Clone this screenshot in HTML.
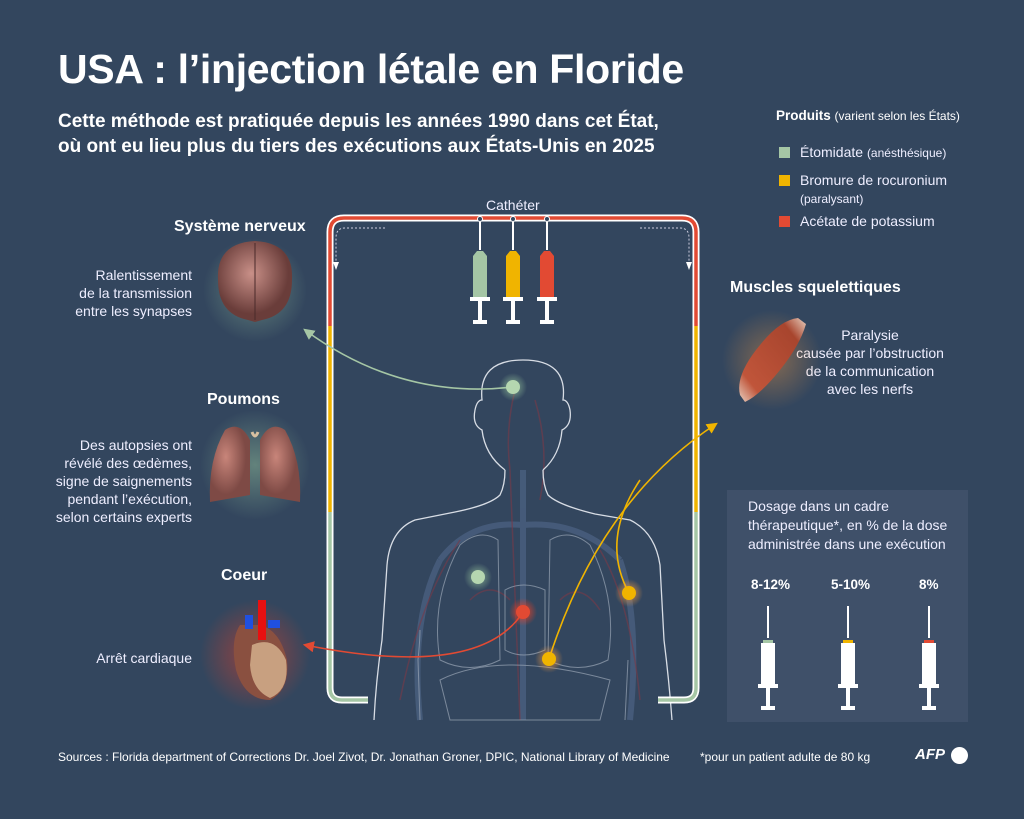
<!DOCTYPE html>
<html><head><meta charset="utf-8">
<style>
html,body{margin:0;padding:0}
body{width:1024px;height:819px;background:#33465e;position:relative;overflow:hidden;font-family:"Liberation Sans","DejaVu Sans",sans-serif;color:#fff}
.a{position:absolute;white-space:nowrap}
h1{position:absolute;left:58px;top:46px;margin:0;font-size:41px;font-weight:bold;letter-spacing:-0.3px}
.sub{left:58px;top:109px;font-size:19px;font-weight:bold;line-height:25px}
.lbl{font-size:16px;font-weight:bold}
.txt{font-size:14px;line-height:18px;color:#eef}
.r{text-align:right}
.c{text-align:center}
</style></head><body>
<h1>USA : l’injection létale en Floride</h1>
<div class="a sub">Cette méthode est pratiquée depuis les années 1990 dans cet État,<br>où ont eu lieu plus du tiers des exécutions aux États-Unis en 2025</div>

<div class="a" style="left:776px;top:108px;font-size:13.5px"><b>Produits</b> <span style="font-size:12px">(varient selon les États)</span></div>
<div class="a" style="left:779px;top:147px;width:11px;height:11px;background:#a5c6a5"></div>
<div class="a txt" style="left:800px;top:143px">Étomidate <span style="font-size:12px">(anésthésique)</span></div>
<div class="a" style="left:779px;top:175px;width:11px;height:11px;background:#f0b400"></div>
<div class="a txt" style="left:800px;top:171px">Bromure de rocuronium<br><span style="font-size:12px">(paralysant)</span></div>
<div class="a" style="left:779px;top:216px;width:11px;height:11px;background:#e24a33"></div>
<div class="a txt" style="left:800px;top:212px">Acétate de potassium</div>

<div class="a txt" style="left:486px;top:196px">Cathéter</div>

<div class="a lbl" style="left:174px;top:218px">Système nerveux</div>
<div class="a txt r" style="left:60px;top:266px;width:132px">Ralentissement<br>de la transmission<br>entre les synapses</div>
<div class="a lbl" style="left:207px;top:391px">Poumons</div>
<div class="a txt r" style="left:40px;top:436px;width:152px">Des autopsies ont<br>révélé des œdèmes,<br>signe de saignements<br>pendant l’exécution,<br>selon certains experts</div>
<div class="a lbl" style="left:221px;top:567px">Coeur</div>
<div class="a txt r" style="left:60px;top:649px;width:132px">Arrêt cardiaque</div>
<div class="a lbl" style="left:730px;top:279px">Muscles squelettiques</div>
<div class="a txt c" style="left:790px;top:326px;width:160px">Paralysie<br>causée par l’obstruction<br>de la communication<br>avec les nerfs</div>

<div class="a" style="left:727px;top:490px;width:241px;height:232px;background:#3f5069"></div>
<div class="a txt" style="left:748px;top:497px;line-height:19px">Dosage dans un cadre<br>thérapeutique*, en % de la dose<br>administrée dans une exécution</div>
<div class="a" style="left:751px;top:577px;font-size:13.5px;font-weight:bold">8-12%</div>
<div class="a" style="left:831px;top:577px;font-size:13.5px;font-weight:bold">5-10%</div>
<div class="a" style="left:919px;top:577px;font-size:13.5px;font-weight:bold">8%</div>

<div class="a" style="left:58px;top:750px;font-size:12px">Sources : Florida department of Corrections Dr. Joel Zivot, Dr. Jonathan Groner, DPIC, National Library of Medicine</div>
<div class="a" style="left:700px;top:750px;font-size:12px">*pour un patient adulte de 80 kg</div>
<div class="a" style="left:915px;top:746px;font-size:15px;font-weight:bold;font-style:italic">AFP</div>
<div class="a" style="left:951px;top:747px;width:17px;height:17px;border-radius:50%;background:#fff"></div>

<svg class="a" style="left:0;top:0" width="1024" height="819" viewBox="0 0 1024 819">
<defs>
<radialGradient id="gg"><stop offset="0" stop-color="#a5d6a5" stop-opacity=".7"/><stop offset="1" stop-color="#a5d6a5" stop-opacity="0"/></radialGradient>
<radialGradient id="rg"><stop offset="0" stop-color="#ff4020" stop-opacity=".9"/><stop offset="1" stop-color="#ff4020" stop-opacity="0"/></radialGradient>
<radialGradient id="og"><stop offset="0" stop-color="#ffa040" stop-opacity=".8"/><stop offset="1" stop-color="#ffa040" stop-opacity="0"/></radialGradient>
<radialGradient id="brain" cx=".45" cy=".4"><stop offset="0" stop-color="#c99088"/><stop offset="1" stop-color="#6a3d3a"/></radialGradient>
<radialGradient id="lung" cx=".4" cy=".4"><stop offset="0" stop-color="#c8857a"/><stop offset="1" stop-color="#7e4a45"/></radialGradient>
<linearGradient id="mus" x1="0" y1="1" x2="1" y2="0"><stop offset="0" stop-color="#e8d0c0"/><stop offset=".2" stop-color="#c0553a"/><stop offset=".8" stop-color="#a8452e"/><stop offset="1" stop-color="#e8d0c0"/></linearGradient>
<marker id="ag" viewBox="0 0 10 10" refX="8" refY="5" markerWidth="7" markerHeight="7" orient="auto"><path d="M0,0L10,5L0,10z" fill="#a5c6a5"/></marker>
<marker id="ar" viewBox="0 0 10 10" refX="8" refY="5" markerWidth="7" markerHeight="7" orient="auto"><path d="M0,0L10,5L0,10z" fill="#e24a33"/></marker>
<marker id="ay" viewBox="0 0 10 10" refX="8" refY="5" markerWidth="7" markerHeight="7" orient="auto"><path d="M0,0L10,5L0,10z" fill="#f0b400"/></marker>
</defs>

<!-- body -->
<g fill="none" stroke="#4a6080" stroke-width="6" opacity=".8">
<path d="M523 470 L523 720"/><path d="M440 560 Q470 520 523 525 Q580 520 620 560"/>
<path d="M420 720 Q410 620 440 560"/><path d="M630 720 Q640 620 620 560"/>
</g>
<g fill="none" stroke="#7a3a48" stroke-width="1.5" opacity=".6">
<path d="M515 390 Q505 430 510 470 L520 720"/><path d="M535 400 Q550 450 540 500"/>
<path d="M400 700 Q420 600 460 540"/><path d="M640 700 Q630 600 600 550"/>
<path d="M470 600 Q490 580 510 600"/><path d="M560 600 Q580 580 600 610"/>
</g>
<g fill="none" stroke="#d8dde5" stroke-width="1.3">
<path d="M505 470 Q505 485 500 495 Q490 505 455 512 L415 520 Q390 530 387 565 L382 640 Q376 680 374 720"/>
<path d="M543 470 Q543 485 548 495 Q558 505 595 514 L630 520 Q655 532 660 565 L664 640 Q669 680 672 720"/>
<path d="M505 470 Q485 455 482 430 Q472 425 475 410 Q477 400 482 400 Q478 360 523 360 Q568 360 563 400 Q568 400 570 410 Q572 425 562 430 Q560 455 543 470"/>
</g>
<g fill="none" stroke="#9aa6b6" stroke-width="1" opacity=".7">
<path d="M440 660 Q430 600 460 545 Q480 528 498 540 L500 660 Q470 675 440 660z"/>
<path d="M608 660 Q618 600 590 545 Q570 528 550 540 L548 660 Q578 675 608 660z"/>
<path d="M505 590 Q523 580 545 590 L545 650 Q523 660 505 650z"/>
<path d="M440 680 Q500 650 610 680 L600 720 L450 720z"/>
<path d="M420 720 L418 660 Q420 640 420 630"/><path d="M625 720 L628 660"/>
</g>

<!-- catheter -->
<g fill="none" stroke-width="7">
<path d="M330 326 L330 232 Q330 218 344 218 L682 218 Q696 218 696 232 L696 326" stroke="#fff"/>
<path d="M330 326 L330 232 Q330 218 344 218 L682 218 Q696 218 696 232 L696 326" stroke="#e24a33" stroke-width="3.5"/>
<path d="M330 326 L330 512" stroke="#fff"/><path d="M330 326 L330 512" stroke="#f0b400" stroke-width="3.5"/>
<path d="M696 326 L696 512" stroke="#fff"/><path d="M696 326 L696 512" stroke="#f0b400" stroke-width="3.5"/>
<path d="M330 512 L330 688 Q330 700 342 700 L368 700" stroke="#fff"/><path d="M330 512 L330 688 Q330 700 342 700 L368 700" stroke="#a5c6a5" stroke-width="3.5"/>
<path d="M696 512 L696 688 Q696 700 684 700 L658 700" stroke="#fff"/><path d="M696 512 L696 688 Q696 700 684 700 L658 700" stroke="#a5c6a5" stroke-width="3.5"/>
</g>
<g fill="none" stroke="#ccd" stroke-width="1" stroke-dasharray="2 2">
<path d="M385 228 L345 228 Q336 228 336 238 L336 262"/><path d="M640 228 L680 228 Q689 228 689 238 L689 262"/>
</g>
<path d="M333 262 L339 262 L336 270z M686 262 L692 262 L689 270z" fill="#fff"/>

<!-- syringes -->
<g>
<g transform="translate(480,0)"><circle cy="219" r="2.5" fill="#33465e" stroke="#fff"/><line y1="222" y2="250" stroke="#fff" stroke-width="2"/><path d="M-7 298 L-7 256 L-3 251 L3 251 L7 256 L7 298z" fill="#a5c6a5"/><rect x="-10" y="297" width="20" height="4" fill="#fff"/><rect x="-2" y="300" width="4" height="22" fill="#fff"/><rect x="-7" y="320" width="14" height="4" fill="#fff"/></g>
<g transform="translate(513,0)"><circle cy="219" r="2.5" fill="#33465e" stroke="#fff"/><line y1="222" y2="250" stroke="#fff" stroke-width="2"/><path d="M-7 298 L-7 256 L-3 251 L3 251 L7 256 L7 298z" fill="#f0b400"/><rect x="-10" y="297" width="20" height="4" fill="#fff"/><rect x="-2" y="300" width="4" height="22" fill="#fff"/><rect x="-7" y="320" width="14" height="4" fill="#fff"/></g>
<g transform="translate(547,0)"><circle cy="219" r="2.5" fill="#33465e" stroke="#fff"/><line y1="222" y2="250" stroke="#fff" stroke-width="2"/><path d="M-7 298 L-7 256 L-3 251 L3 251 L7 256 L7 298z" fill="#e24a33"/><rect x="-10" y="297" width="20" height="4" fill="#fff"/><rect x="-2" y="300" width="4" height="22" fill="#fff"/><rect x="-7" y="320" width="14" height="4" fill="#fff"/></g>
</g>

<!-- connectors -->
<path d="M513 387 Q400 400 305 330" fill="none" stroke="#a5c6a5" stroke-width="1.6" marker-end="url(#ag)"/>
<path d="M523 612 Q480 680 305 645" fill="none" stroke="#e24a33" stroke-width="1.6" marker-end="url(#ar)"/>
<path d="M549 659 Q600 500 716 424" fill="none" stroke="#f0b400" stroke-width="1.6" marker-end="url(#ay)"/>
<path d="M629 593 Q600 540 640 480" fill="none" stroke="#f0b400" stroke-width="1.6"/>

<!-- dots -->
<circle cx="513" cy="387" r="14" fill="url(#gg)"/><circle cx="513" cy="387" r="7" fill="#b5d6b0"/>
<circle cx="478" cy="577" r="14" fill="url(#gg)"/><circle cx="478" cy="577" r="7" fill="#b5d6b0"/>
<circle cx="523" cy="612" r="14" fill="url(#rg)"/><circle cx="523" cy="612" r="7" fill="#e24a33"/>
<circle cx="549" cy="659" r="14" fill="url(#og)"/><circle cx="549" cy="659" r="7" fill="#f0b400"/>
<circle cx="629" cy="593" r="14" fill="url(#og)"/><circle cx="629" cy="593" r="7" fill="#f0b400"/>

<!-- organs -->
<circle cx="255" cy="290" r="52" fill="url(#gg)" opacity=".6"/>
<path d="M218 280 Q216 243 255 241 Q294 243 292 280 Q292 314 262 320 L255 322 L248 320 Q218 314 218 280z" fill="url(#brain)"/>
<path d="M255 243 L255 320" stroke="#4a2a2a" stroke-width="1"/>
<circle cx="255" cy="465" r="55" fill="url(#gg)" opacity=".6"/>
<path d="M250 440 Q240 420 225 430 Q208 460 210 502 L250 495z" fill="url(#lung)"/>
<path d="M260 440 Q270 420 285 430 Q302 460 300 502 L260 495z" fill="url(#lung)"/>
<path d="M252 432 Q255 440 258 432" stroke="#d8c0a0" stroke-width="3" fill="none"/>
<circle cx="255" cy="655" r="55" fill="url(#rg)" opacity=".55"/>
<path d="M240 625 Q230 640 236 670 Q245 700 270 700 Q290 690 287 660 Q280 630 260 625z" fill="#8a5040"/>
<path d="M252 645 Q275 635 286 660 Q290 690 270 698 Q252 690 250 665z" fill="#c8a080"/>
<rect x="258" y="600" width="8" height="40" fill="#e81010"/><rect x="245" y="615" width="8" height="14" fill="#2050e0"/><rect x="268" y="620" width="12" height="8" fill="#2050e0"/>
<circle cx="772" cy="360" r="50" fill="url(#og)" opacity=".5"/>
<path d="M740 395 Q735 375 760 345 Q780 320 798 318 L806 324 Q800 345 780 370 Q760 395 745 402z" fill="url(#mus)"/>

<!-- dose syringes -->
<g fill="#fff">
<g transform="translate(768,0)"><rect x="-1" y="606" width="2" height="32"/><path d="M-5 644 L-5 640 L5 640 L5 644z" fill="#a5c6a5"/><rect x="-7" y="643" width="14" height="42"/><rect x="-10" y="684" width="20" height="4"/><rect x="-2" y="687" width="4" height="20"/><rect x="-7" y="706" width="14" height="4"/></g>
<g transform="translate(848,0)"><rect x="-1" y="606" width="2" height="32"/><path d="M-5 644 L-5 640 L5 640 L5 644z" fill="#f0b400"/><rect x="-7" y="643" width="14" height="42"/><rect x="-10" y="684" width="20" height="4"/><rect x="-2" y="687" width="4" height="20"/><rect x="-7" y="706" width="14" height="4"/></g>
<g transform="translate(929,0)"><rect x="-1" y="606" width="2" height="32"/><path d="M-5 644 L-5 640 L5 640 L5 644z" fill="#e24a33"/><rect x="-7" y="643" width="14" height="42"/><rect x="-10" y="684" width="20" height="4"/><rect x="-2" y="687" width="4" height="20"/><rect x="-7" y="706" width="14" height="4"/></g>
</g>
</svg>
</body></html>
